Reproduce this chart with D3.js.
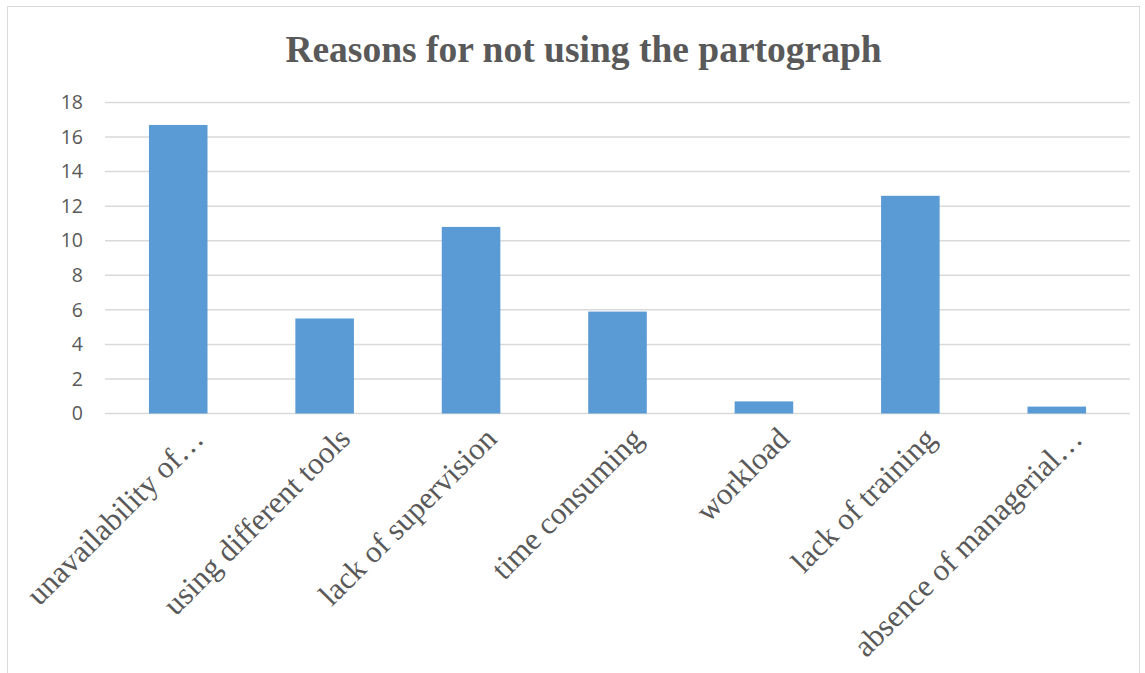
<!DOCTYPE html>
<html>
<head>
<meta charset="utf-8">
<script src="https://cdn.jsdelivr.net/npm/d3@7"></script>
<style>
	body { margin: 0; background: #fff; }
	svg { display: block; }
</style>
</head>
<body>
<div id="chart"></div>
<script>
// Data
var categories = ["unavailability of\u2026", "using different tools", "lack of supervision",
	"time consuming", "workload", "lack of training", "absence of managerial\u2026"];
var values = [16.7, 5.5, 10.8, 5.9, 0.7, 12.6, 0.4];
var yTicks = [0, 2, 4, 6, 8, 10, 12, 14, 16, 18];

// Layout
var width = 1145, height = 673;
var plot = { left: 105, right: 1130, top: 102.5, bottom: 413.5 };

var svg = d3.select("#chart").append("svg")
	.attr("width", width)
	.attr("height", height);

// Chart frame
svg.append("rect")
	.attr("x", 7.5).attr("y", 6.5)
	.attr("width", 1132).attr("height", 700)
	.style("fill", "#fff")
	.style("stroke", "#d9d9d9")
	.style("stroke-width", 1);

// Scales
var x = d3.scaleBand()
	.domain(categories)
	.range([plot.left, plot.right])
	.paddingInner(0.6)
	.paddingOuter(0.3);
var y = d3.scaleLinear()
	.domain([0, 18])
	.range([plot.bottom, plot.top]);

// Gridlines
svg.append("g")
	.selectAll("line")
	.data(yTicks)
	.join("line")
	.attr("x1", plot.left).attr("x2", plot.right)
	.attr("y1", function(d) { return y(d); })
	.attr("y2", function(d) { return y(d); })
	.style("stroke", "#d9d9d9")
	.style("stroke-width", 1.5);

// Y axis
var yAxis = svg.append("g")
	.attr("transform", "translate(" + (plot.left - 22) + ",0)")
	.call(d3.axisLeft(y).tickValues(yTicks).tickSize(0).tickPadding(0));
yAxis.select(".domain").remove();
yAxis.selectAll("text")
	.style("font-family", "'Open Sans', 'Liberation Sans', sans-serif")
	.style("font-size", "19.5px")
	.style("fill", "#595959");

// Bars
svg.append("g")
	.selectAll("rect")
	.data(values)
	.join("rect")
	.attr("x", function(d, i) { return x(categories[i]); })
	.attr("y", function(d) { return y(d); })
	.attr("width", x.bandwidth())
	.attr("height", function(d) { return y(0) - y(d); })
	.style("fill", "#5b9bd5");

// X labels (rotated, end anchored near the bar)
var xAxis = svg.append("g")
	.attr("transform", "translate(0," + plot.bottom + ")")
	.call(d3.axisBottom(x).tickSize(0).tickPadding(0));
xAxis.select(".domain").remove();
xAxis.selectAll("text")
	.attr("text-anchor", "end")
	.attr("dy", 0)
	.attr("transform", "translate(" + (x.bandwidth() / 2 - 2) + ",27) rotate(-45)")
	.style("font-family", "'Liberation Serif', 'Times New Roman', serif")
	.style("font-size", "31px")
	.style("fill", "#595959");

// Title
svg.append("text")
	.attr("x", 583.5)
	.attr("y", 62)
	.attr("text-anchor", "middle")
	.style("font-family", "'Liberation Serif', 'Times New Roman', serif")
	.style("font-weight", "bold")
	.style("font-size", "37.5px")
	.style("fill", "#595959")
	.text("Reasons for not using the partograph");
</script>
</body>
</html>
